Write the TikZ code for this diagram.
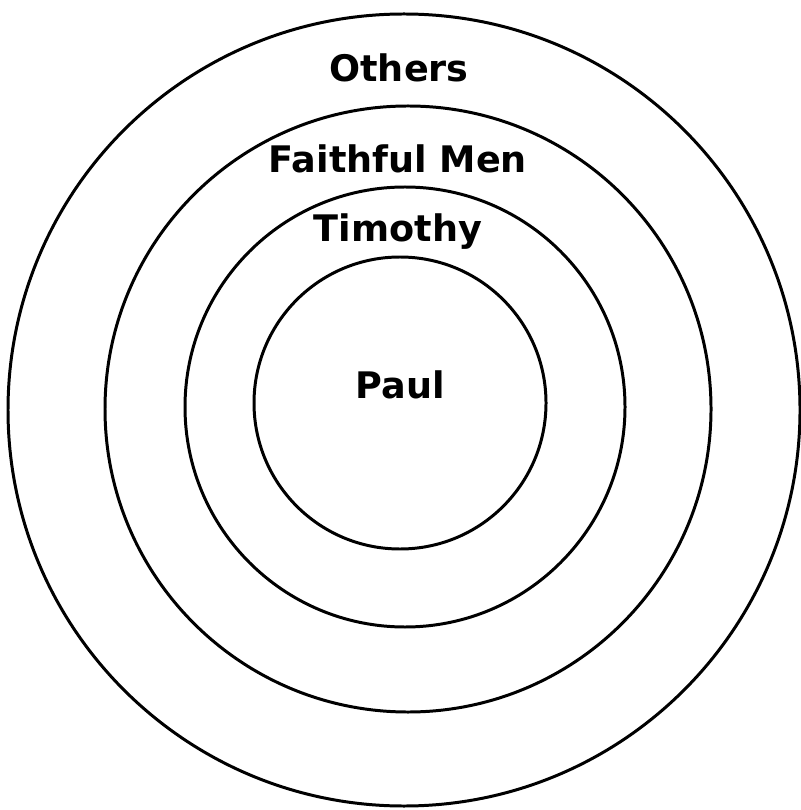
\documentclass[tikz,border=0pt]{standalone}
\usepackage{fontspec}
\setmainfont{DejaVu Sans}
\usepackage{tikz}
\tikzset{
  ring/.style={draw=black, line width=0.85pt},
  ringlabel/.style={font=\fontsize{10.4}{12}\selectfont\bfseries, anchor=base, inner sep=0pt}
}

\begin{document}
\begin{tikzpicture}[x=0.01cm, y=-0.01cm]
  \useasboundingbox (0,0) rectangle (800,810);

  %% Concentric rings
  \draw[ring] (404,410) circle (396);
  \draw[ring] (408,409) circle (303);
  \draw[ring] (405,407) circle (220);
  \draw[ring] (400,403) circle (146);

  %% Labels
  \node[ringlabel] (others) at (399,82) {Others};
  \node[ringlabel] (faithful) at (398,173) {Faithful Men};
  \node[ringlabel] (timothy) at (398,242) {Timothy};
  \node[ringlabel] (paul) at (400,398) {Paul};
\end{tikzpicture}
\end{document}
